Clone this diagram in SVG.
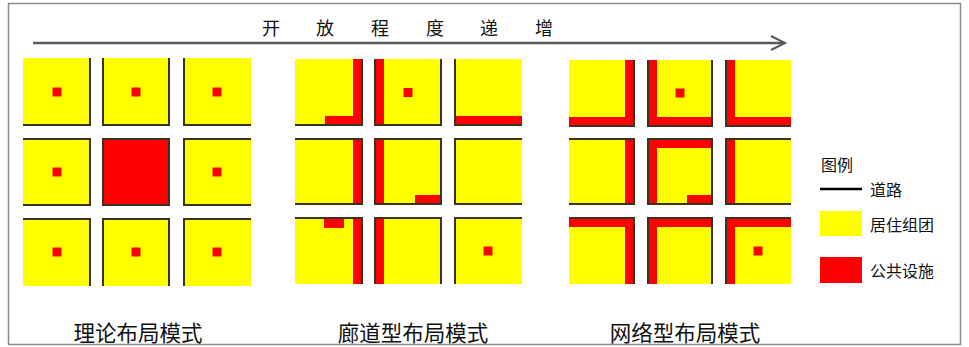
<svg xmlns="http://www.w3.org/2000/svg" width="969" height="347" viewBox="0 0 969 347">
<style>
.blk{fill:#ffff00}
.pub{fill:#ff0000}
.rd{fill:none;stroke:#3a3320;stroke-width:2}
.t{font-family:"Noto Sans CJK SC",sans-serif;fill:#111}
.ttl{font-size:18px;text-anchor:middle}
.lab{font-size:21.5px;text-anchor:middle}
.leg{font-size:16px}
</style>
<rect x="0" y="0" width="969" height="347" fill="#fff"/>
<rect x="8.5" y="3.5" width="952" height="341" fill="none" stroke="#8a8a8a" stroke-width="1.5"/>

<g id="title">
<text class="t ttl" x="271 325 380 435 489 544" y="35">开放程度递增</text>
</g>
<g id="connectors">
<line x1="33" y1="43" x2="784" y2="43" stroke="#5a5a5a" stroke-width="2.5"/>
<polyline points="771,36 785,43 771,50" fill="none" stroke="#5a5a5a" stroke-width="2"/>
</g>

<!-- Grid 1: theoretical -->
<g id="g1-r1c1"><rect class="blk" x="23" y="58" width="68" height="68"/><rect class="pub" x="52.5" y="87.5" width="9" height="9"/><path class="rd" d="M90,58 V125 H23"/></g>
<g id="g1-r1c2"><rect class="blk" x="102" y="58" width="68" height="68"/><rect class="pub" x="131.5" y="87.5" width="9" height="9"/><path class="rd" d="M103,58 V125 H169 V58"/></g>
<g id="g1-r1c3"><rect class="blk" x="183" y="58" width="68" height="68"/><rect class="pub" x="212.5" y="87.5" width="9" height="9"/><path class="rd" d="M184,58 V125 H251"/></g>
<g id="g1-r2c1"><rect class="blk" x="23" y="138" width="68" height="68"/><rect class="pub" x="52.5" y="167.5" width="9" height="9"/><path class="rd" d="M23,139 H90 V205 H23"/></g>
<g id="g1-r2c2"><rect class="pub" x="103" y="139" width="66" height="66" stroke="#3a3320" stroke-width="2"/></g>
<g id="g1-r2c3"><rect class="blk" x="183" y="138" width="68" height="68"/><rect class="pub" x="212.5" y="167.5" width="9" height="9"/><path class="rd" d="M251,139 H184 V205 H251"/></g>
<g id="g1-r3c1"><rect class="blk" x="23" y="218" width="68" height="68"/><rect class="pub" x="52.5" y="247.5" width="9" height="9"/><path class="rd" d="M23,219 H90 V286"/></g>
<g id="g1-r3c2"><rect class="blk" x="102" y="218" width="68" height="68"/><rect class="pub" x="131.5" y="247.5" width="9" height="9"/><path class="rd" d="M103,286 V219 H169 V286"/></g>
<g id="g1-r3c3"><rect class="blk" x="183" y="218" width="68" height="68"/><rect class="pub" x="212.5" y="247.5" width="9" height="9"/><path class="rd" d="M184,286 V219 H251"/></g>

<!-- Grid 2: corridor -->
<g id="g2-r1c1"><rect class="blk" x="295" y="59" width="68" height="67"/><rect class="pub" x="353" y="59" width="10" height="67"/><rect class="pub" x="325" y="116" width="38" height="10"/><path class="rd" d="M362,59 V125 H295"/></g>
<g id="g2-r1c2"><rect class="blk" x="374" y="59" width="68" height="67"/><rect class="pub" x="374" y="59" width="10" height="67"/><rect class="pub" x="403.5" y="88" width="9" height="9"/><path class="rd" d="M375,59 V125 H441 V59"/></g>
<g id="g2-r1c3"><rect class="blk" x="454" y="59" width="68" height="67"/><rect class="pub" x="454" y="116" width="68" height="10"/><path class="rd" d="M455,59 V125 H522"/></g>
<g id="g2-r2c1"><rect class="blk" x="295" y="138" width="68" height="67"/><rect class="pub" x="353" y="138" width="10" height="67"/><path class="rd" d="M295,139 H362 V204 H295"/></g>
<g id="g2-r2c2"><rect class="blk" x="374" y="138" width="68" height="67"/><rect class="pub" x="374" y="138" width="10" height="67"/><rect class="pub" x="415" y="195" width="27" height="10"/><rect class="rd" x="375" y="139" width="66" height="65"/></g>
<g id="g2-r2c3"><rect class="blk" x="454" y="138" width="68" height="67"/><path class="rd" d="M522,139 H455 V204 H522"/></g>
<g id="g2-r3c1"><rect class="blk" x="295" y="217" width="68" height="67"/><rect class="pub" x="353" y="217" width="10" height="67"/><rect class="pub" x="324" y="218" width="20" height="10"/><path class="rd" d="M295,218 H362 V284"/></g>
<g id="g2-r3c2"><rect class="blk" x="374" y="217" width="68" height="67"/><rect class="pub" x="374" y="217" width="10" height="67"/><path class="rd" d="M375,284 V218 H441 V284"/></g>
<g id="g2-r3c3"><rect class="blk" x="454" y="217" width="68" height="67"/><rect class="pub" x="483.5" y="246.5" width="9" height="9"/><path class="rd" d="M455,284 V218 H522"/></g>

<!-- Grid 3: network -->
<g id="g3-r1c1"><rect class="blk" x="569" y="60" width="66" height="67"/><rect class="pub" x="625" y="60" width="10" height="67"/><rect class="pub" x="569" y="117" width="66" height="10"/><path class="rd" d="M634,60 V126 H569"/></g>
<g id="g3-r1c2"><rect class="blk" x="647" y="60" width="66" height="67"/><rect class="pub" x="647" y="60" width="10" height="67"/><rect class="pub" x="647" y="117" width="66" height="10"/><rect class="pub" x="675.5" y="88.5" width="9" height="9"/><path class="rd" d="M648,60 V126 H712 V60"/></g>
<g id="g3-r1c3"><rect class="blk" x="725" y="60" width="66" height="67"/><rect class="pub" x="725" y="60" width="10" height="67"/><rect class="pub" x="725" y="117" width="66" height="10"/><path class="rd" d="M726,60 V126 H791"/></g>
<g id="g3-r2c1"><rect class="blk" x="569" y="138" width="66" height="67"/><rect class="pub" x="625" y="138" width="10" height="67"/><path class="rd" d="M569,139 H634 V204 H569"/></g>
<g id="g3-r2c2"><rect class="blk" x="647" y="138" width="66" height="67"/><rect class="pub" x="647" y="138" width="10" height="67"/><rect class="pub" x="647" y="138" width="66" height="10"/><rect class="pub" x="687" y="195" width="26" height="10"/><rect class="rd" x="648" y="139" width="64" height="65"/></g>
<g id="g3-r2c3"><rect class="blk" x="725" y="138" width="66" height="67"/><rect class="pub" x="725" y="138" width="10" height="67"/><path class="rd" d="M791,139 H726 V204 H791"/></g>
<g id="g3-r3c1"><rect class="blk" x="569" y="217" width="66" height="67"/><rect class="pub" x="569" y="217" width="66" height="10"/><rect class="pub" x="625" y="217" width="10" height="67"/><path class="rd" d="M569,218 H634 V284"/></g>
<g id="g3-r3c2"><rect class="blk" x="647" y="217" width="66" height="67"/><rect class="pub" x="647" y="217" width="66" height="10"/><rect class="pub" x="647" y="217" width="10" height="67"/><path class="rd" d="M648,284 V218 H712 V284"/></g>
<g id="g3-r3c3"><rect class="blk" x="725" y="217" width="66" height="67"/><rect class="pub" x="725" y="217" width="66" height="10"/><rect class="pub" x="725" y="217" width="10" height="67"/><rect class="pub" x="753.5" y="246.5" width="9" height="9"/><path class="rd" d="M726,284 V218 H791"/></g>

<g id="labels">
<text class="t lab" x="138" y="341">理论布局模式</text>
<text class="t lab" x="413" y="341">廊道型布局模式</text>
<text class="t lab" x="685" y="341">网络型布局模式</text>
</g>

<g id="legend">
<text class="t leg" x="821" y="171">图例</text>
<line x1="820" y1="189" x2="862" y2="189" stroke="#000" stroke-width="2.5"/>
<text class="t leg" x="870" y="196">道路</text>
<rect class="blk" x="820" y="211" width="42" height="25"/>
<text class="t leg" x="870" y="231">居住组团</text>
<rect class="pub" x="820" y="257" width="42" height="26"/>
<text class="t leg" x="870" y="277">公共设施</text>
</g>
</svg>
